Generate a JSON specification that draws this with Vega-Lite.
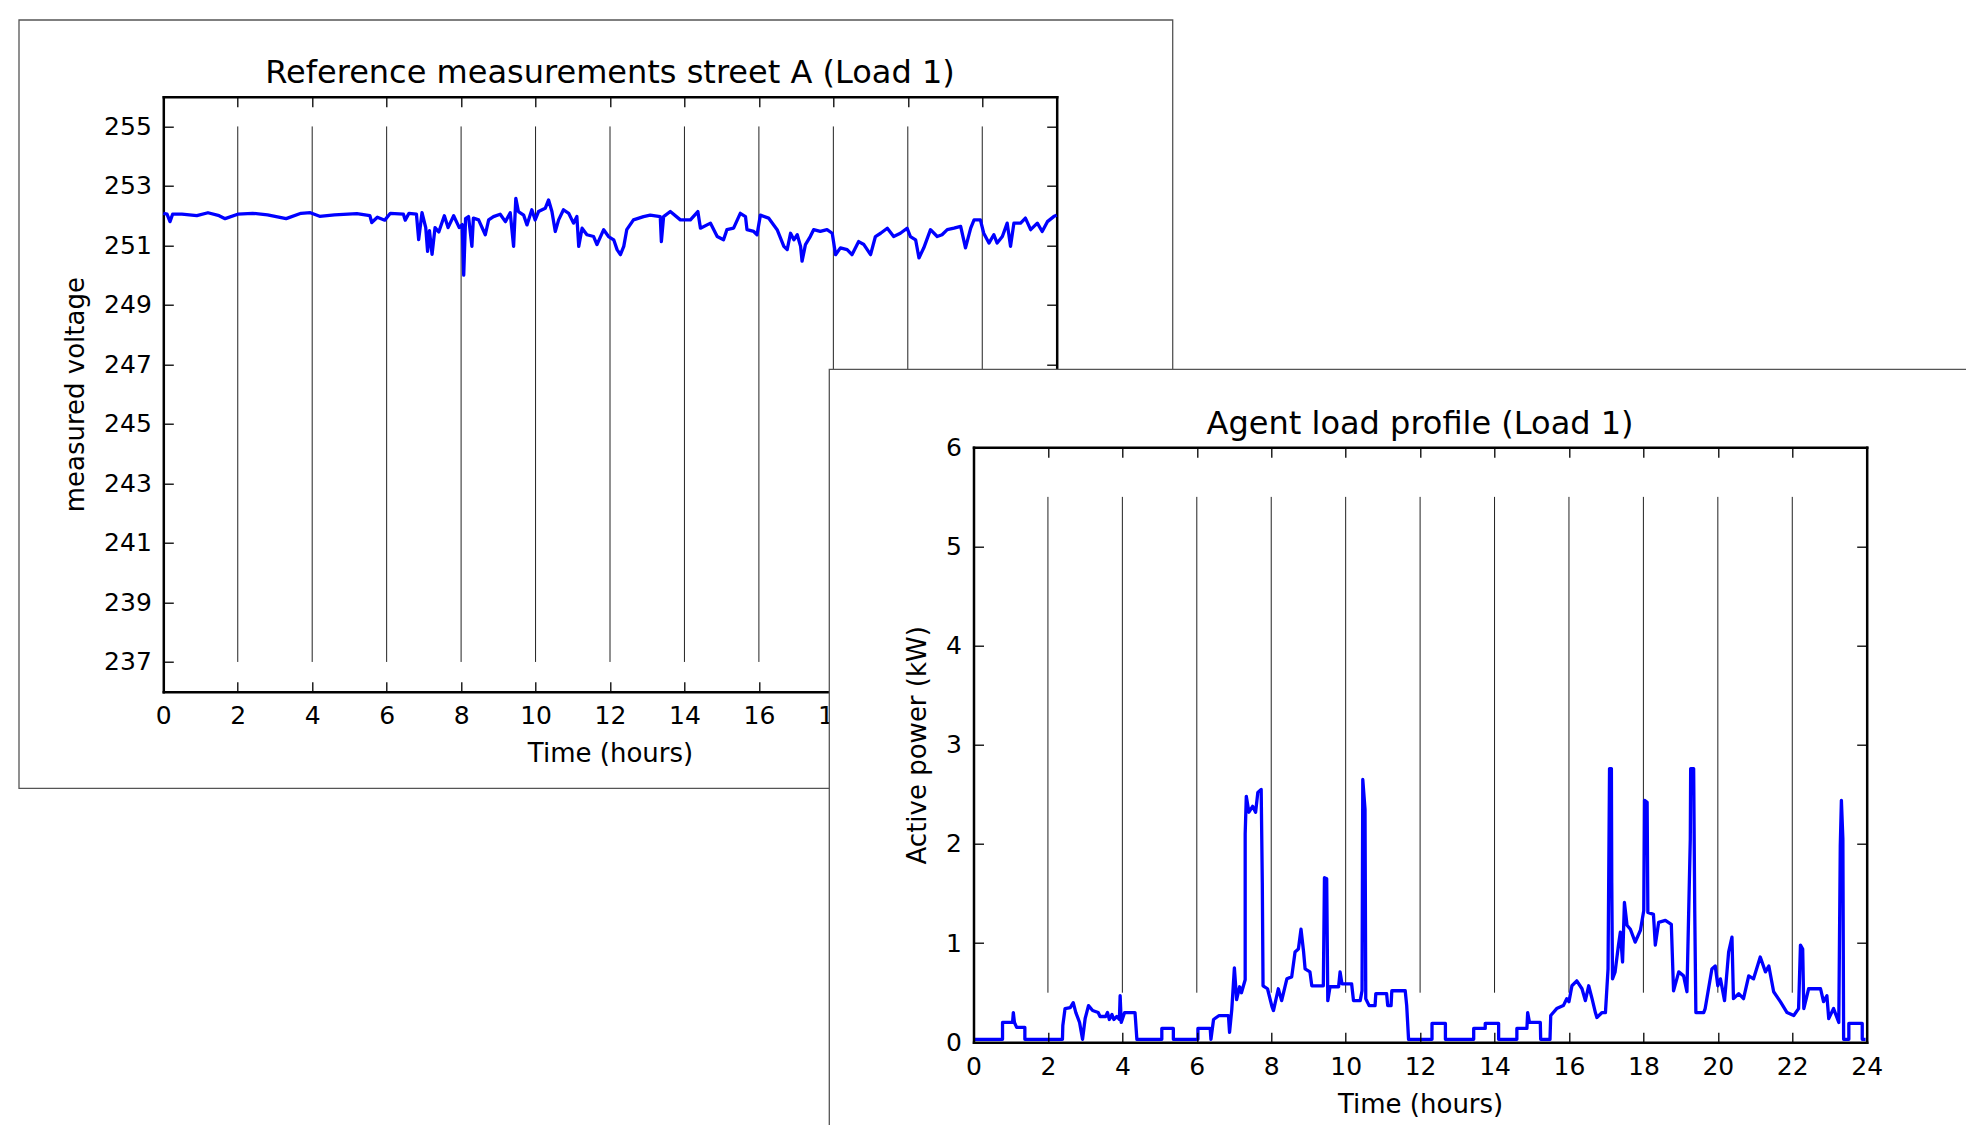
{
 "$schema": "https://vega.github.io/schema/vega-lite/v6.json",
 "autosize": {"type": "none"},
 "padding": {"left": 163.3, "top": 96.7, "right": 909.3, "bottom": 433.3},
 "width": 893.4,
 "height": 595,
 "background": "white",
 "config": {
  "font": "DejaVu Sans",
  "view": {"stroke": null},
  "axis": {"labelFont": "DejaVu Sans", "labelFontSize": 25, "labelColor": "black", "titleFont": "DejaVu Sans", "titleFontSize": 26, "titleFontWeight": "normal", "titleColor": "black", "tickColor": "black", "tickWidth": 1.3, "tickSize": -10, "domainColor": "black", "domainWidth": 2.5, "domainCap": "square", "grid": false, "labelFlush": false, "labelOverlap": false, "labelPadding": 22, "titlePadding": 12},
  "axisY": {"titlePadding": 15}
 },
 "datasets": {
  "rules1": [{"t":2,"lo":237,"hi":255},{"t":4,"lo":237,"hi":255},{"t":6,"lo":237,"hi":255},{"t":8,"lo":237,"hi":255},{"t":10,"lo":237,"hi":255},{"t":12,"lo":237,"hi":255},{"t":14,"lo":237,"hi":255},{"t":16,"lo":237,"hi":255},{"t":18,"lo":237,"hi":255},{"t":20,"lo":237,"hi":255},{"t":22,"lo":237,"hi":255}],
  "rules2": [{"t":2,"lo":0.5,"hi":5.5},{"t":4,"lo":0.5,"hi":5.5},{"t":6,"lo":0.5,"hi":5.5},{"t":8,"lo":0.5,"hi":5.5},{"t":10,"lo":0.5,"hi":5.5},{"t":12,"lo":0.5,"hi":5.5},{"t":14,"lo":0.5,"hi":5.5},{"t":16,"lo":0.5,"hi":5.5},{"t":18,"lo":0.5,"hi":5.5},{"t":20,"lo":0.5,"hi":5.5},{"t":22,"lo":0.5,"hi":5.5}],
  "volt": [
   {"t":0,"v":252.08},{"t":0.1,"v":252.05},{"t":0.18,"v":251.8},{"t":0.25,"v":252.05},{"t":0.5,"v":252.05},{"t":0.9,"v":252.0},{"t":1.2,"v":252.1},{"t":1.5,"v":252.0},{"t":1.66,"v":251.9},{"t":2.0,"v":252.05},{"t":2.4,"v":252.08},{"t":2.8,"v":252.03},{"t":3.3,"v":251.9},{"t":3.7,"v":252.08},{"t":3.95,"v":252.1},{"t":4.2,"v":251.98},{"t":4.6,"v":252.03},{"t":5.2,"v":252.07},{"t":5.55,"v":252.0},{"t":5.6,"v":251.77},{"t":5.75,"v":251.95},{"t":5.95,"v":251.85},{"t":6.1,"v":252.08},{"t":6.45,"v":252.05},{"t":6.5,"v":251.85},{"t":6.6,"v":252.08},{"t":6.8,"v":252.05},{"t":6.86,"v":251.2},{"t":6.95,"v":252.1},{"t":7.05,"v":251.6},{"t":7.1,"v":250.8},{"t":7.15,"v":251.5},{"t":7.22,"v":250.7},{"t":7.3,"v":251.6},{"t":7.4,"v":251.45},{"t":7.55,"v":252.0},{"t":7.65,"v":251.6},{"t":7.8,"v":252.0},{"t":7.95,"v":251.6},{"t":8.03,"v":251.7},{"t":8.07,"v":250.0},{"t":8.12,"v":251.9},{"t":8.2,"v":251.97},{"t":8.29,"v":250.97},{"t":8.33,"v":251.92},{"t":8.47,"v":251.86},{"t":8.65,"v":251.36},{"t":8.74,"v":251.86},{"t":8.87,"v":251.97},{"t":9.05,"v":252.05},{"t":9.19,"v":251.8},{"t":9.32,"v":252.1},{"t":9.41,"v":250.97},{"t":9.47,"v":252.58},{"t":9.54,"v":252.14},{"t":9.68,"v":252.02},{"t":9.77,"v":251.69},{"t":9.9,"v":252.2},{"t":9.99,"v":251.86},{"t":10.08,"v":252.14},{"t":10.26,"v":252.25},{"t":10.35,"v":252.53},{"t":10.44,"v":252.14},{"t":10.53,"v":251.47},{"t":10.62,"v":251.86},{"t":10.75,"v":252.2},{"t":10.89,"v":252.08},{"t":11.02,"v":251.75},{"t":11.11,"v":251.97},{"t":11.16,"v":250.97},{"t":11.25,"v":251.58},{"t":11.38,"v":251.36},{"t":11.56,"v":251.3},{"t":11.65,"v":251.03},{"t":11.83,"v":251.53},{"t":11.96,"v":251.3},{"t":12.1,"v":251.19},{"t":12.19,"v":250.86},{"t":12.28,"v":250.69},{"t":12.37,"v":250.97},{"t":12.45,"v":251.53},{"t":12.63,"v":251.86},{"t":12.9,"v":251.97},{"t":13.08,"v":252.02},{"t":13.35,"v":251.97},{"t":13.38,"v":251.13},{"t":13.44,"v":251.97},{"t":13.62,"v":252.14},{"t":13.89,"v":251.86},{"t":14.16,"v":251.86},{"t":14.36,"v":252.14},{"t":14.43,"v":251.58},{"t":14.7,"v":251.75},{"t":14.88,"v":251.3},{"t":15.05,"v":251.19},{"t":15.14,"v":251.53},{"t":15.32,"v":251.58},{"t":15.5,"v":252.08},{"t":15.64,"v":251.97},{"t":15.68,"v":251.53},{"t":15.86,"v":251.47},{"t":15.95,"v":251.36},{"t":16.04,"v":252.02},{"t":16.26,"v":251.92},{"t":16.49,"v":251.53},{"t":16.67,"v":250.97},{"t":16.76,"v":250.86},{"t":16.85,"v":251.41},{"t":16.94,"v":251.19},{"t":17.03,"v":251.36},{"t":17.12,"v":250.97},{"t":17.16,"v":250.47},{"t":17.25,"v":251.03},{"t":17.38,"v":251.3},{"t":17.47,"v":251.53},{"t":17.65,"v":251.47},{"t":17.83,"v":251.53},{"t":17.97,"v":251.41},{"t":18.06,"v":250.69},{"t":18.19,"v":250.92},{"t":18.37,"v":250.86},{"t":18.5,"v":250.69},{"t":18.68,"v":251.13},{"t":18.82,"v":251.03},{"t":19.0,"v":250.69},{"t":19.13,"v":251.3},{"t":19.27,"v":251.41},{"t":19.45,"v":251.58},{"t":19.62,"v":251.3},{"t":19.8,"v":251.41},{"t":19.98,"v":251.58},{"t":20.07,"v":251.3},{"t":20.21,"v":251.19},{"t":20.3,"v":250.58},{"t":20.43,"v":250.92},{"t":20.61,"v":251.53},{"t":20.79,"v":251.3},{"t":20.92,"v":251.36},{"t":21.06,"v":251.53},{"t":21.24,"v":251.58},{"t":21.42,"v":251.64},{"t":21.55,"v":250.92},{"t":21.69,"v":251.58},{"t":21.78,"v":251.86},{"t":21.95,"v":251.86},{"t":22.04,"v":251.41},{"t":22.18,"v":251.08},{"t":22.31,"v":251.36},{"t":22.4,"v":251.08},{"t":22.54,"v":251.3},{"t":22.67,"v":251.75},{"t":22.76,"v":250.97},{"t":22.85,"v":251.75},{"t":23.03,"v":251.75},{"t":23.16,"v":251.92},{"t":23.3,"v":251.53},{"t":23.48,"v":251.75},{"t":23.61,"v":251.47},{"t":23.75,"v":251.8},{"t":23.92,"v":251.97},{"t":24.0,"v":252.02}
  ],
  "power": [
   {"t":0,"p":0.03},{"t":0.78,"p":0.03},{"t":0.78,"p":0.2},{"t":1.05,"p":0.2},{"t":1.07,"p":0.3},{"t":1.1,"p":0.2},{"t":1.16,"p":0.15},{"t":1.38,"p":0.15},{"t":1.38,"p":0.03},{"t":2.39,"p":0.03},{"t":2.4,"p":0.17},{"t":2.46,"p":0.34},{"t":2.6,"p":0.35},{"t":2.68,"p":0.4},{"t":2.75,"p":0.3},{"t":2.85,"p":0.2},{"t":2.93,"p":0.03},{"t":3.0,"p":0.24},{"t":3.09,"p":0.37},{"t":3.2,"p":0.32},{"t":3.35,"p":0.3},{"t":3.4,"p":0.26},{"t":3.55,"p":0.26},{"t":3.6,"p":0.3},{"t":3.65,"p":0.23},{"t":3.72,"p":0.28},{"t":3.77,"p":0.23},{"t":3.85,"p":0.26},{"t":3.92,"p":0.23},{"t":3.94,"p":0.47},{"t":3.97,"p":0.2},{"t":4.06,"p":0.3},{"t":4.34,"p":0.3},{"t":4.39,"p":0.03},{"t":5.06,"p":0.03},{"t":5.06,"p":0.14},{"t":5.37,"p":0.14},{"t":5.37,"p":0.03},{"t":6.03,"p":0.03},{"t":6.03,"p":0.14},{"t":6.36,"p":0.14},{"t":6.38,"p":0.03},{"t":6.45,"p":0.23},{"t":6.6,"p":0.27},{"t":6.85,"p":0.27},{"t":6.88,"p":0.1},{"t":6.94,"p":0.33},{"t":7.01,"p":0.75},{"t":7.07,"p":0.43},{"t":7.15,"p":0.56},{"t":7.2,"p":0.5},{"t":7.3,"p":0.63},{"t":7.3,"p":2.1},{"t":7.33,"p":2.48},{"t":7.4,"p":2.32},{"t":7.5,"p":2.38},{"t":7.58,"p":2.32},{"t":7.64,"p":2.52},{"t":7.73,"p":2.55},{"t":7.76,"p":1.61},{"t":7.78,"p":0.57},{"t":7.9,"p":0.54},{"t":8.02,"p":0.36},{"t":8.06,"p":0.32},{"t":8.19,"p":0.54},{"t":8.28,"p":0.42},{"t":8.42,"p":0.64},{"t":8.55,"p":0.66},{"t":8.64,"p":0.91},{"t":8.73,"p":0.94},{"t":8.8,"p":1.14},{"t":8.87,"p":0.91},{"t":8.91,"p":0.74},{"t":9.04,"p":0.71},{"t":9.09,"p":0.57},{"t":9.4,"p":0.57},{"t":9.43,"p":1.66},{"t":9.49,"p":1.65},{"t":9.52,"p":0.42},{"t":9.58,"p":0.56},{"t":9.81,"p":0.56},{"t":9.85,"p":0.71},{"t":9.9,"p":0.59},{"t":10.16,"p":0.59},{"t":10.21,"p":0.42},{"t":10.39,"p":0.42},{"t":10.44,"p":0.52},{"t":10.46,"p":2.65},{"t":10.52,"p":2.35},{"t":10.54,"p":0.44},{"t":10.63,"p":0.37},{"t":10.79,"p":0.37},{"t":10.81,"p":0.49},{"t":11.1,"p":0.49},{"t":11.13,"p":0.37},{"t":11.22,"p":0.37},{"t":11.24,"p":0.52},{"t":11.6,"p":0.52},{"t":11.64,"p":0.37},{"t":11.69,"p":0.03},{"t":12.32,"p":0.03},{"t":12.32,"p":0.19},{"t":12.68,"p":0.19},{"t":12.68,"p":0.03},{"t":13.44,"p":0.03},{"t":13.44,"p":0.14},{"t":13.75,"p":0.14},{"t":13.75,"p":0.19},{"t":14.11,"p":0.19},{"t":14.11,"p":0.03},{"t":14.6,"p":0.03},{"t":14.6,"p":0.14},{"t":14.87,"p":0.14},{"t":14.89,"p":0.3},{"t":14.94,"p":0.2},{"t":15.23,"p":0.2},{"t":15.24,"p":0.03},{"t":15.49,"p":0.03},{"t":15.51,"p":0.27},{"t":15.67,"p":0.34},{"t":15.85,"p":0.37},{"t":15.94,"p":0.44},{"t":16.0,"p":0.41},{"t":16.08,"p":0.57},{"t":16.21,"p":0.62},{"t":16.35,"p":0.54},{"t":16.44,"p":0.42},{"t":16.53,"p":0.57},{"t":16.62,"p":0.44},{"t":16.71,"p":0.3},{"t":16.75,"p":0.25},{"t":16.89,"p":0.3},{"t":16.98,"p":0.3},{"t":17.05,"p":0.74},{"t":17.09,"p":2.76},{"t":17.14,"p":2.76},{"t":17.15,"p":1.61},{"t":17.17,"p":0.64},{"t":17.24,"p":0.71},{"t":17.33,"p":0.98},{"t":17.38,"p":1.11},{"t":17.44,"p":0.81},{"t":17.49,"p":1.41},{"t":17.56,"p":1.18},{"t":17.65,"p":1.14},{"t":17.78,"p":1.01},{"t":17.92,"p":1.13},{"t":18.01,"p":1.33},{"t":18.03,"p":2.44},{"t":18.1,"p":2.42},{"t":18.12,"p":1.31},{"t":18.27,"p":1.29},{"t":18.32,"p":0.98},{"t":18.41,"p":1.21},{"t":18.59,"p":1.23},{"t":18.75,"p":1.19},{"t":18.81,"p":0.52},{"t":18.95,"p":0.71},{"t":19.08,"p":0.67},{"t":19.17,"p":0.51},{"t":19.26,"p":2.05},{"t":19.27,"p":2.76},{"t":19.35,"p":2.76},{"t":19.38,"p":1.31},{"t":19.41,"p":0.3},{"t":19.62,"p":0.3},{"t":19.66,"p":0.34},{"t":19.84,"p":0.74},{"t":19.93,"p":0.77},{"t":20.0,"p":0.57},{"t":20.07,"p":0.64},{"t":20.18,"p":0.42},{"t":20.29,"p":0.91},{"t":20.38,"p":1.06},{"t":20.42,"p":0.44},{"t":20.56,"p":0.49},{"t":20.69,"p":0.44},{"t":20.83,"p":0.67},{"t":20.96,"p":0.64},{"t":21.14,"p":0.86},{"t":21.28,"p":0.71},{"t":21.37,"p":0.77},{"t":21.5,"p":0.51},{"t":21.68,"p":0.41},{"t":21.86,"p":0.3},{"t":22.04,"p":0.27},{"t":22.17,"p":0.34},{"t":22.22,"p":0.98},{"t":22.28,"p":0.94},{"t":22.31,"p":0.34},{"t":22.44,"p":0.54},{"t":22.76,"p":0.54},{"t":22.84,"p":0.41},{"t":22.93,"p":0.47},{"t":22.98,"p":0.24},{"t":23.11,"p":0.34},{"t":23.25,"p":0.2},{"t":23.29,"p":1.98},{"t":23.32,"p":2.44},{"t":23.36,"p":2.05},{"t":23.38,"p":0.03},{"t":23.52,"p":0.03},{"t":23.52,"p":0.19},{"t":23.88,"p":0.19},{"t":23.88,"p":0.03},{"t":23.97,"p":0.03}
  ]
 },
 "resolve": {"scale": {"x": "independent", "y": "independent"}, "axis": {"x": "independent", "y": "independent"}},
 "layer": [
  {
   "data": {"values": [{}]},
   "mark": {"type": "rect", "fill": "transparent", "stroke": "#555555", "strokeWidth": 1.3},
   "encoding": {"x": {"value": -144.3}, "x2": {"value": 1009.4}, "y": {"value": -76.7}, "y2": {"value": 691.6}}
  },
  {
   "data": {"values": [{}]},
   "mark": {"type": "text", "font": "DejaVu Sans", "fontSize": 32, "align": "center", "baseline": "alphabetic", "color": "black"},
   "encoding": {
    "x": {"datum": 12, "type": "quantitative", "scale": {"domain": [0, 24], "nice": false}, "axis": null},
    "y": {"datum": 256.45, "type": "quantitative", "scale": {"domain": [236, 256], "nice": false}, "axis": null},
    "text": {"value": "Reference measurements street A (Load 1)"}
   }
  },
  {
   "data": {"name": "rules1"},
   "mark": {"type": "rule", "color": "#222222", "strokeWidth": 1},
   "encoding": {
    "x": {"field": "t", "type": "quantitative", "scale": {"domain": [0, 24], "nice": false}, "axis": {"orient": "top", "labels": false, "title": null, "zindex": 0, "values": [0,2,4,6,8,10,12,14,16,18,20,22,24]}},
    "y": {"field": "lo", "type": "quantitative", "scale": {"domain": [236, 256], "nice": false}, "axis": {"orient": "right", "labels": false, "title": null, "zindex": 0, "values": [237,239,241,243,245,247,249,251,253,255]}},
    "y2": {"field": "hi"}
   }
  },
  {
   "data": {"name": "volt"},
   "mark": {"type": "line", "color": "#0000ff", "strokeWidth": 3.3, "strokeJoin": "round"},
   "encoding": {
    "x": {"field": "t", "type": "quantitative", "scale": {"domain": [0, 24], "nice": false}, "axis": {"orient": "bottom", "title": "Time (hours)", "zindex": 0, "values": [0,2,4,6,8,10,12,14,16,18,20,22,24]}},
    "y": {"field": "v", "type": "quantitative", "scale": {"domain": [236, 256], "nice": false}, "axis": {"orient": "left", "title": "measured voltage", "zindex": 0, "values": [237,239,241,243,245,247,249,251,253,255]}},
    "order": {"value": null}
   }
  },
  {
   "data": {"values": [{}]},
   "mark": {"type": "rect", "fill": "white", "stroke": "#555555", "strokeWidth": 1.3},
   "encoding": {"x": {"value": 666}, "x2": {"value": 1900}, "y": {"value": 272.6}, "y2": {"value": 1100}}
  },
  {
   "data": {"values": [{}]},
   "mark": {"type": "text", "font": "DejaVu Sans", "fontSize": 32, "align": "center", "baseline": "alphabetic", "color": "black"},
   "encoding": {
    "x": {"datum": 12, "type": "quantitative", "scale": {"domain": [0, 24], "nice": false, "range": [810.2, 1703.4]}, "axis": null},
    "y": {"datum": 6.134, "type": "quantitative", "scale": {"domain": [0, 6], "nice": false, "range": [945.6, 350.6]}, "axis": null},
    "text": {"value": "Agent load profile (Load 1)"}
   }
  },
  {
   "data": {"name": "rules2"},
   "mark": {"type": "rule", "color": "#222222", "strokeWidth": 1},
   "encoding": {
    "x": {"field": "t", "type": "quantitative", "scale": {"domain": [0, 24], "nice": false, "range": [810.2, 1703.4]}, "axis": {"orient": "top", "offset": -350.6, "labels": false, "title": null, "zindex": 1, "values": [0,2,4,6,8,10,12,14,16,18,20,22,24]}},
    "y": {"field": "lo", "type": "quantitative", "scale": {"domain": [0, 6], "nice": false, "range": [945.6, 350.6]}, "axis": {"orient": "right", "offset": 810, "labels": false, "title": null, "zindex": 1, "values": [0,1,2,3,4,5,6]}},
    "y2": {"field": "hi"}
   }
  },
  {
   "data": {"name": "power"},
   "mark": {"type": "line", "color": "#0000ff", "strokeWidth": 3.3, "strokeJoin": "round"},
   "encoding": {
    "x": {"field": "t", "type": "quantitative", "scale": {"domain": [0, 24], "nice": false, "range": [810.2, 1703.4]}, "axis": {"orient": "bottom", "offset": 350.6, "title": "Time (hours)", "zindex": 1, "values": [0,2,4,6,8,10,12,14,16,18,20,22,24]}},
    "y": {"field": "p", "type": "quantitative", "scale": {"domain": [0, 6], "nice": false, "range": [945.6, 350.6]}, "axis": {"orient": "left", "offset": -810.2, "title": "Active power (kW)", "zindex": 1, "values": [0,1,2,3,4,5,6]}},
    "order": {"value": null}
   }
  }
 ]
}
